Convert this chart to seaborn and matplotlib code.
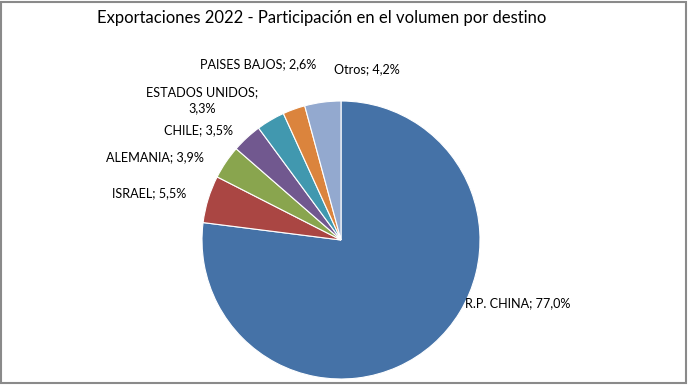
import matplotlib
matplotlib.use("Agg")
import matplotlib.pyplot as plt
import seaborn as sns
from matplotlib.patches import Rectangle

sns.set_theme(style="white")
plt.rcParams['font.family'] = ['Lato', 'DejaVu Sans']

# data
destinos = ["R.P. CHINA", "ISRAEL", "ALEMANIA", "CHILE", "ESTADOS UNIDOS", "PAISES BAJOS", "Otros"]
participacion = [77.0, 5.5, 3.9, 3.5, 3.3, 2.6, 4.2]
etiquetas = ["R.P. CHINA; 77,0%", "ISRAEL; 5,5%", "ALEMANIA; 3,9%", "CHILE; 3,5%",
             "ESTADOS UNIDOS;\n3,3%", "PAISES BAJOS; 2,6%", "Otros; 4,2%"]
colores = sns.color_palette(["#4572A7", "#AA4643", "#89A54E", "#71588F",
                             "#4198AF", "#DB843D", "#93A9CF"])

# label placement (pixel coords from top-left), Excel "best fit" style
pos_etiquetas = [(518, 303), (149, 193), (155, 157), (198, 130),
                 (202, 100), (258, 64), (367, 69)]

W, H = 689, 386
fig = plt.figure(figsize=(W / 100, H / 100), dpi=100)
ax = fig.add_axes([0, 0, 1, 1])

ax.pie(participacion, colors=colores, startangle=90, counterclock=False,
       center=(341, H - 240), radius=139,
       wedgeprops=dict(edgecolor="white", linewidth=0.8))

# pie() resets the limits, so set them afterwards
ax.set_xlim(0, W)
ax.set_ylim(0, H)
ax.set_aspect("equal")
ax.axis("off")

for txt, (x, y) in zip(etiquetas, pos_etiquetas):
    ax.text(x, H - y, txt, ha="center", va="center", fontsize=9.1,
            color="black", linespacing=1.35)

ax.text(322, H - 18, "Exportaciones 2022 - Participación en el volumen por destino",
        ha="center", va="center", fontsize=12, color="black")

ax.add_patch(Rectangle((1, 3), 685, 381, fill=False, edgecolor="#8a8a8a",
                       linewidth=1.5, clip_on=False))

fig.savefig("out.png", dpi=100)
